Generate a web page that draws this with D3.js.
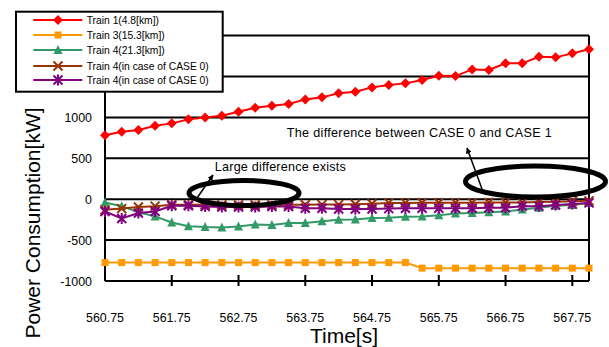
<!DOCTYPE html>
<html>
<head>
<meta charset="utf-8">
<script src="https://cdn.jsdelivr.net/npm/d3@7"></script>
<style>
body { margin: 0; background: #fff; }
svg { display: block; font-family: "Liberation Sans", Arial, sans-serif; }
</style>
</head>
<body>
<svg id="chart" width="609" height="347"></svg>
<script>
var time = [560.75, 561.0, 561.25, 561.5, 561.75, 562.0, 562.25, 562.5, 562.75, 563.0,
	563.25, 563.5, 563.75, 564.0, 564.25, 564.5, 564.75, 565.0, 565.25, 565.5,
	565.75, 566.0, 566.25, 566.5, 566.75, 567.0, 567.25, 567.5, 567.75, 568.0];
var xTicks = [560.75, 561.75, 562.75, 563.75, 564.75, 565.75, 566.75, 567.75];
var yGrid = [-1000, -500, 0, 500, 1000, 1500, 2000];
// 1500 and 2000 labels sit under the legend box
var yLabels = [-1000, -500, 0, 500, 1000];

var train1 = [783, 824, 845, 897, 927, 976, 1000, 1020, 1069, 1118,
	1142, 1163, 1220, 1245, 1294, 1313, 1367, 1395, 1416, 1457,
	1509, 1505, 1587, 1579, 1661, 1661, 1742, 1734, 1783, 1832];
var train3 = [-775, -775, -775, -775, -775, -775, -775, -775, -775, -775,
	-775, -775, -775, -775, -775, -775, -775, -775, -775, -843,
	-843, -843, -843, -843, -843, -843, -843, -843, -843, -843];
var train4 = [-40, -85, -160, -210, -285, -330, -340, -345, -335, -310,
	-315, -290, -290, -270, -250, -248, -230, -228, -215, -210,
	-195, -175, -170, -160, -150, -125, -105, -80, -70, -45];
var train4case0 = [-130, -115, -95, -85, -68, -68, -68, -70, -70, -70,
	-70, -68, -68, -66, -66, -62, -55, -45, -45, -43,
	-43, -42, -42, -40, -40, -40, -35, -30, -25, -20];
var train4case1 = [-150, -235, -170, -150, -80, -80, -90, -95, -95, -95,
	-90, -90, -110, -110, -120, -120, -120, -115, -110, -110,
	-110, -110, -110, -105, -105, -85, -85, -70, -60, -45];

var seriesNames = ["Train 1(4.8[km])", "Train 3(15.3[km])", "Train 4(21.3[km])",
	"Train 4(in case of CASE 0)", "Train 4(in case of CASE 0)"];
var seriesColors = ["#ff0000", "#ff9900", "#339966", "#993300", "#800080"];
var seriesShapes = ["diamond", "square", "triangle", "x", "star"];
var seriesValues = [train1, train3, train4, train4case0, train4case1];

var svg = d3.select("#chart");
var plotLeft = 105, plotRight = 589, plotTop = 35.6, plotBottom = 281;

var x = d3.scaleLinear().domain([560.75, 568.0]).range([plotLeft, plotRight]);
var y = d3.scaleLinear().domain([-1000, 2000]).range([plotBottom, plotTop]);

// gridlines
svg.append("g").selectAll("line").data(yGrid).enter().append("line")
	.attr("x1", plotLeft).attr("x2", plotRight)
	.attr("y1", function(d){ return y(d); }).attr("y2", function(d){ return y(d); })
	.attr("stroke", "#000").attr("stroke-width", 2);

// plot borders
svg.append("line").attr("x1", plotLeft).attr("x2", plotLeft).attr("y1", plotTop).attr("y2", plotBottom)
	.attr("stroke", "#000").attr("stroke-width", 2);
svg.append("line").attr("x1", plotRight).attr("x2", plotRight).attr("y1", plotTop).attr("y2", plotBottom)
	.attr("stroke", "#000").attr("stroke-width", 2);

// x ticks crossing the axis
svg.append("g").selectAll("line").data(xTicks.slice(1)).enter().append("line")
	.attr("x1", function(d){ return x(d); }).attr("x2", function(d){ return x(d); })
	.attr("y1", plotBottom - 6).attr("y2", plotBottom + 5)
	.attr("stroke", "#000").attr("stroke-width", 2);

// tick labels
svg.append("g").selectAll("text").data(xTicks).enter().append("text")
	.attr("x", function(d){ return x(d); }).attr("y", 322)
	.attr("text-anchor", "middle").attr("font-size", "12.4px")
	.text(function(d){ return d.toFixed(2); });
svg.append("g").selectAll("text").data(yLabels).enter().append("text")
	.attr("x", 92).attr("y", function(d){ return y(d) + 4.5; })
	.attr("text-anchor", "end").attr("font-size", "12.4px")
	.text(function(d){ return d; });

// axis titles
svg.append("text").attr("x", 344).attr("y", 343).attr("text-anchor", "middle")
	.attr("font-size", "21px").text("Time[s]");
svg.append("text").attr("transform", "translate(40,223) rotate(-90)")
	.attr("text-anchor", "middle").attr("font-size", "21px").text("Power Consumption[kW]");

// markers
var drawMarker = function(g, shape, color, cx, cy){
	if(shape === "diamond"){
		g.append("path").attr("d", "M" + cx + "," + (cy - 5) + "L" + (cx + 5) + "," + cy + "L" + cx + "," + (cy + 5) + "L" + (cx - 5) + "," + cy + "Z")
			.attr("fill", color);
	} else if(shape === "square"){
		g.append("rect").attr("x", cx - 3.5).attr("y", cy - 3.5).attr("width", 7).attr("height", 7).attr("fill", color);
	} else if(shape === "triangle"){
		g.append("path").attr("d", "M" + cx + "," + (cy - 5) + "L" + (cx + 4.5) + "," + (cy + 4) + "L" + (cx - 4.5) + "," + (cy + 4) + "Z")
			.attr("fill", color);
	} else if(shape === "x"){
		g.append("path").attr("d", "M" + (cx - 4.5) + "," + (cy - 4.5) + "L" + (cx + 4.5) + "," + (cy + 4.5) + "M" + (cx + 4.5) + "," + (cy - 4.5) + "L" + (cx - 4.5) + "," + (cy + 4.5))
			.attr("stroke", color).attr("stroke-width", 2).attr("fill", "none");
	} else {
		g.append("path").attr("d", "M" + (cx - 4.5) + "," + (cy - 4.5) + "L" + (cx + 4.5) + "," + (cy + 4.5) + "M" + (cx + 4.5) + "," + (cy - 4.5) + "L" + (cx - 4.5) + "," + (cy + 4.5) + "M" + cx + "," + (cy - 5.5) + "L" + cx + "," + (cy + 5.5))
			.attr("stroke", color).attr("stroke-width", 2).attr("fill", "none");
	}
};

// series
var line = d3.line().x(function(d, i){ return x(time[i]); }).y(function(d){ return y(d); });
seriesValues.forEach(function(vals, s){
	var g = svg.append("g");
	g.append("path").attr("d", line(vals)).attr("fill", "none")
		.attr("stroke", seriesColors[s]).attr("stroke-width", 2);
	vals.forEach(function(v, i){ drawMarker(g, seriesShapes[s], seriesColors[s], x(time[i]), y(v)); });
});

// annotations
svg.append("defs").append("marker").attr("id", "arrow")
	.attr("viewBox", "0 0 10 10").attr("refX", 9).attr("refY", 5)
	.attr("markerWidth", 4).attr("markerHeight", 4).attr("orient", "auto")
	.append("path").attr("d", "M0,0L10,5L0,10Z").attr("fill", "#000");

svg.append("ellipse").attr("cx", 244).attr("cy", 193).attr("rx", 55).attr("ry", 12.5)
	.attr("fill", "none").attr("stroke", "#000").attr("stroke-width", 5);
svg.append("ellipse").attr("cx", 535.5).attr("cy", 181.5).attr("rx", 70).attr("ry", 15.5)
	.attr("fill", "none").attr("stroke", "#000").attr("stroke-width", 5);
svg.append("line").attr("x1", 197).attr("y1", 198).attr("x2", 213).attr("y2", 175)
	.attr("stroke", "#000").attr("stroke-width", 1.5).attr("marker-end", "url(#arrow)");
svg.append("line").attr("x1", 482).attr("y1", 189).attr("x2", 467).attr("y2", 148)
	.attr("stroke", "#000").attr("stroke-width", 1.5).attr("marker-end", "url(#arrow)");

svg.append("text").attr("x", 214.8).attr("y", 170.5).attr("font-size", "12.6px")
	.attr("textLength", 131).text("Large difference exists");
svg.append("text").attr("x", 286.7).attr("y", 136.7).attr("font-size", "12.6px")
	.attr("textLength", 265).text("The difference between CASE 0 and CASE 1");

// legend
var legend = svg.append("g");
legend.append("rect").attr("x", 16).attr("y", 11.7).attr("width", 206.7).attr("height", 80)
	.attr("fill", "#fff").attr("stroke", "#000").attr("stroke-width", 2);
var legendY = [20, 35, 50, 66, 80];
seriesNames.forEach(function(name, s){
	var ly = legendY[s];
	legend.append("line").attr("x1", 33.3).attr("x2", 82.3).attr("y1", ly).attr("y2", ly)
		.attr("stroke", seriesColors[s]).attr("stroke-width", 2);
	drawMarker(legend, seriesShapes[s], seriesColors[s], 58, ly);
	legend.append("text").attr("x", 86.7).attr("y", ly + 3.6).attr("font-size", "10.3px").text(name);
});
</script>
</body>
</html>
